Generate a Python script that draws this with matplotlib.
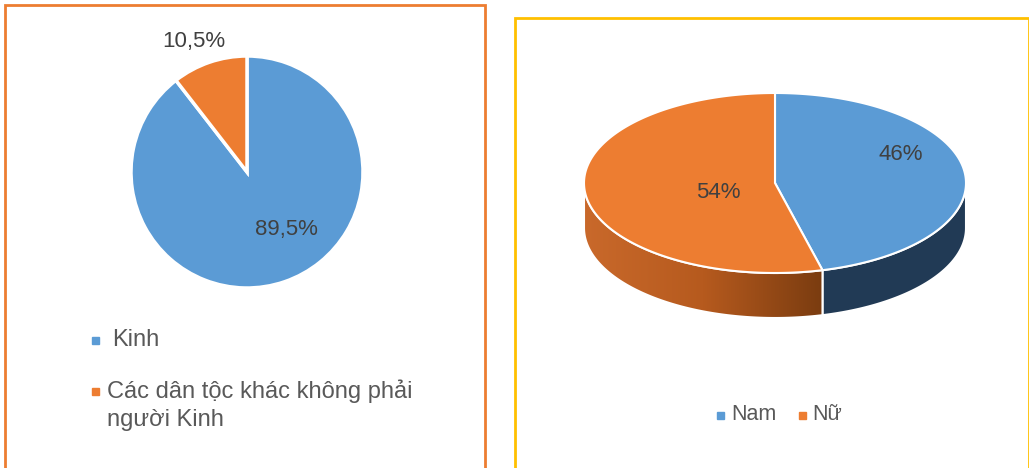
import matplotlib
matplotlib.use('Agg')
import numpy as np
import matplotlib.pyplot as plt
from matplotlib.patches import Polygon, Rectangle
from matplotlib.colors import LinearSegmentedColormap

# dữ liệu
dan_toc = ['Kinh', 'Các dân tộc khác không phải\nngười Kinh']
dan_toc_pct = [89.5, 10.5]
dan_toc_txt = ['89,5%', '10,5%']

gioi_tinh = ['Nam', 'Nữ']
gioi_tinh_pct = [46, 54]
gioi_tinh_txt = ['46%', '54%']

BLUE = '#5B9BD5'
ORANGE = '#ED7D31'
GRAY = '#595959'
FONT = ['Liberation Sans', 'DejaVu Sans']

W, H = 1029, 468
fig = plt.figure(figsize=(W / 100, H / 100), dpi=100)
ax = fig.add_axes([0, 0, 1, 1])

# ---- biểu đồ 1: dân tộc ----
c1 = (247, 296)
r1 = 116
ax.pie(dan_toc_pct, colors=[BLUE, ORANGE], startangle=90, counterclock=False,
       center=c1, radius=r1, wedgeprops=dict(ec='white', lw=2.5), frame=True)
ax.set_xlim(0, W)
ax.set_ylim(0, H)
ax.set_aspect('equal')
ax.axis('off')

# khung
ax.add_patch(Rectangle((5, -10), 480, H - 5 + 10, fill=False, ec='#ED7D31', lw=2))
ax.add_patch(Rectangle((515, -10), 514, H - 18 + 10, fill=False, ec='#FFC000', lw=2))

ax.text(286, H - 229, dan_toc_txt[0], ha='center', va='center', fontsize=16,
        color='#404040', family=FONT)
ax.text(194, H - 42, dan_toc_txt[1], ha='center', va='center', fontsize=16,
        color='#404040', family=FONT)

# chú giải trái
ax.add_patch(Rectangle((92, H - 344), 7, 7, color=BLUE))
ax.text(112, H - 340, dan_toc[0], ha='left', va='center', fontsize=17, color=GRAY, family=FONT)
ax.add_patch(Rectangle((92, H - 395), 7, 7, color=ORANGE))
ax.text(107, H - 379, dan_toc[1], ha='left', va='top', fontsize=17, color=GRAY,
        family=FONT, linespacing=1.38)

# ---- biểu đồ 2: giới tính (3D) ----
cx, cy = 775, H - 183
a, b, depth = 191, 90, 45


def pt(t):
    t = np.radians(t)
    return cx + a * np.cos(t), cy + b * np.sin(t)


angles = [90]
for v in gioi_tinh_pct:
    angles.append(angles[-1] - v / 100 * 360)

# mặt bên (phần phía trước: -180..0 độ)
side_cols = ['#213A55', None]
for i in range(2):
    t0, t1 = angles[i], angles[i + 1]
    lo, hi = max(min(t0, t1), -180), min(max(t0, t1), 0)
    if lo >= hi:
        continue
    ts = np.linspace(lo, hi, 100)
    xs, ys = pt(ts)
    poly_xy = np.vstack([np.column_stack([xs, ys]),
                         np.column_stack([xs[::-1], ys[::-1] - depth])])
    if side_cols[i] is not None:
        ax.add_patch(Polygon(poly_xy, closed=True, fc=side_cols[i], ec='white', lw=1.5))
    else:
        patch = Polygon(poly_xy, closed=True, fc='none', ec='white', lw=1.5)
        ax.add_patch(patch)
        grad = np.linspace(0, 1, 256).reshape(1, -1)
        cm = LinearSegmentedColormap.from_list('side', ['#C9692B', '#B65A1E', '#7A3C10'])
        im = ax.imshow(grad, cmap=cm, aspect='auto',
                       extent=[xs.min(), xs.max(), ys.min() - depth, ys.max()],
                       zorder=1)
        im.set_clip_path(patch)
        patch.set_zorder(2)

# mặt trên
cols = [BLUE, ORANGE]
for i in range(2):
    ts = np.linspace(angles[i], angles[i + 1], 200)
    xs, ys = pt(ts)
    poly_xy = np.vstack([[cx, cy], np.column_stack([xs, ys])])
    ax.add_patch(Polygon(poly_xy, closed=True, fc=cols[i], ec='white', lw=1.5, zorder=3))

ax.set_xlim(0, W)
ax.set_ylim(0, H)

ax.text(901, H - 155, gioi_tinh_txt[0], ha='center', va='center', fontsize=16,
        color='#404040', family=FONT, zorder=5)
ax.text(718, H - 193, gioi_tinh_txt[1], ha='center', va='center', fontsize=16,
        color='#404040', family=FONT, zorder=5)

# chú giải phải
ax.add_patch(Rectangle((717, H - 419), 7, 7, color=BLUE))
ax.text(731, H - 415, gioi_tinh[0], ha='left', va='center', fontsize=15.5, color=GRAY, family=FONT)
ax.add_patch(Rectangle((799, H - 419), 7, 7, color=ORANGE))
ax.text(812, H - 415, gioi_tinh[1], ha='left', va='center', fontsize=15.5, color=GRAY, family=FONT)

fig.savefig('out.png', dpi=100)
